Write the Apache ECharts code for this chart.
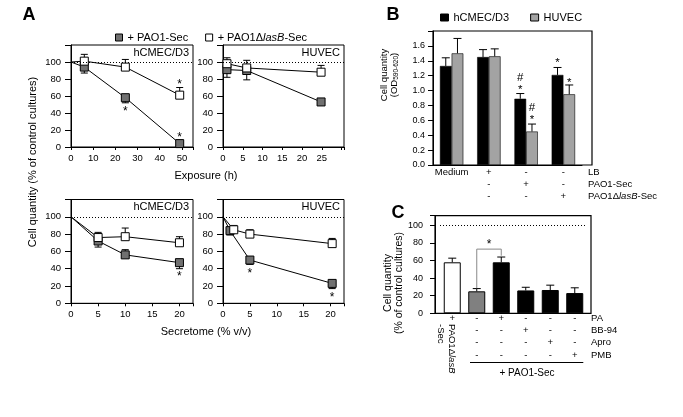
<!DOCTYPE html>
<html><head><meta charset="utf-8">
<script src="https://cdn.jsdelivr.net/npm/echarts@6/dist/echarts.min.js"></script>
<style>html,body{margin:0;padding:0;background:#fff}#c{width:683px;height:417px}</style>
</head><body><div id="c"></div>
<script>
// ---------- Panel A data ----------
const a1PaoX = [0, 6, 24.5, 49];
const a1PaoY = [100, 94, 58, 4];
const a1PaoE = [0, -7, -6, 0];
const a1LasX = [0, 6, 24.5, 49];
const a1LasY = [100, 101, 94, 61];
const a1LasE = [0, 8, 9, 9];
const a1StarX = [49, 24.5, 49];
const a1StarY = [76, 44.7, 13.7];

const a2PaoX = [1, 6, 24.8];
const a2PaoY = [91, 90, 53];
const a2PaoE = [-9, -11, -3];
const a2LasX = [1, 6, 24.8];
const a2LasY = [98, 93, 88];
const a2LasE = [7, 9, 8];

const a3PaoX = [0, 5, 10, 20];
const a3PaoY = [100, 72, 56, 47];
const a3PaoE = [0, -7, 6, -7];
const a3LasX = [0, 5, 10, 20];
const a3LasY = [100, 76, 77, 70];
const a3LasE = [0, 6, 10, 7];
const a3StarX = [20];
const a3StarY = [33.5];

const a4PaoX = [0, 1.3, 5, 20.3];
const a4PaoY = [100, 84, 50, 23];
const a4PaoE = [0, -5, -5, -6];
const a4LasX = [0, 2, 5, 20.3];
const a4LasY = [100, 85, 80, 69];
const a4LasE = [0, 5, 5, 6];
const a4StarX = [5, 20.3];
const a4StarY = [37, 9];

const aYTicks = [0, 20, 40, 60, 80, 100];

// ---------- Panel B data ----------
const bCats = ['Medium', 'LB', 'PAO1-Sec', 'PAO1dlasB-Sec'];
const bRowLB  = ['Medium', '+', '-', '-'];
const bRowPAO = ['', '-', '+', '-'];
const bRowLas = ['', '-', '-', '+'];
const bHcmec = [1.33, 1.45, 0.89, 1.21];
const bHcmecErr = [0.11, 0.10, 0.07, 0.10];
const bHuvec = [1.50, 1.46, 0.45, 0.95];
const bHuvecErr = [0.20, 0.10, 0.10, 0.125];
const bMarkCat = [2, 2, 2, 2, 3, 3];
const bMarkY = [1.04, 1.17, 0.64, 0.77, 1.40, 1.14];
const bMarkText = ['*', '#', '*', '#', '*', '*'];
const bMarkBar = [0, 0, 1, 1, 0, 1]; // 0 = hCMEC/D3 bar, 1 = HUVEC bar

// ---------- Panel C data ----------
const cCats = ['dlasB', 'PAO1', 'PA', 'BB-94', 'Apro', 'PMB'];
const cVals = [58, 25, 58, 26, 26.5, 23];
const cErr = [4.7, 3.1, 6, 3.6, 5.5, 6];
const cRowPA   = ['+', '-', '+', '-', '-', '-'];
const cRowBB   = ['', '-', '-', '+', '-', '-'];
const cRowApro = ['', '-', '-', '-', '+', '-'];
const cRowPMB  = ['', '-', '-', '-', '-', '+'];
const cBracket = [1, 2, 28.5, 73, 65.5, 80.7]; // from cat, to cat, left foot, top, right foot, star

// ---------- styling ----------
const FONT = 'Liberation Sans';
const GRAY_A = '#707070';
const GRAY_B = '#a3a3a3';
const GRAY_C = '#808080';
const PAO = '+ PAO1-Sec';
const LAS = '+ PAO1ΔlasB-Sec';
const DOT = {type: [1, 2], color: '#000', width: 1};

function aGrid(left, top, w, h) {
  return {left, top, width: w, height: h, show: true, borderColor: '#000', borderWidth: 1, backgroundColor: 'transparent'};
}
function aX(k, max, interval) {
  return {gridIndex: k, type: 'value', min: 0, max, interval,
    axisLine: {show: true, onZero: false, lineStyle: {color: '#000', width: 1}},
    axisTick: {show: true, length: 3, lineStyle: {color: '#000'}},
    axisLabel: {fontSize: 9.5, fontFamily: FONT, color: '#000', margin: 6,
      formatter: v => (Math.abs(v / interval - Math.round(v / interval)) < 1e-6 && v <= max - interval / 2 + 1e-6) ? String(v) : ''},
    splitLine: {show: false}};
}
function aY(k) {
  return {gridIndex: k, type: 'value', min: 0, max: 120, interval: 20,
    axisLine: {show: true, lineStyle: {color: '#000', width: 1}},
    axisTick: {show: true, length: 6, lineStyle: {color: '#000'}},
    axisLabel: {fontSize: 9.5, fontFamily: FONT, color: '#000', margin: 10,
      formatter: v => aYTicks.indexOf(v) >= 0 ? String(v) : ''},
    splitLine: {show: false}};
}
function lineSeries(k, name, xs, ys, color, withRef) {
  const s = {type: 'line', name, xAxisIndex: k, yAxisIndex: k,
    data: xs.map((x, i) => x === 0 ? {value: [x, ys[i]], symbol: 'none'} : [x, ys[i]]),
    symbol: 'rect', symbolSize: 8, showAllSymbol: true,
    itemStyle: {color, borderColor: '#000', borderWidth: 1},
    lineStyle: {color: '#000', width: 1}, z: 4, silent: true};
  if (withRef) {
    s.markLine = {silent: true, symbol: 'none', label: {show: false}, lineStyle: DOT, data: [{yAxis: 100}]};
  }
  return s;
}
function errSeries(k, xs, ys, es, cap, dxs) {
  return {type: 'custom', xAxisIndex: k, yAxisIndex: k, z: 3, silent: true,
    data: xs.map((x, i) => [x, ys[i], es[i], dxs ? dxs[i] : 0]).filter(d => d[2] !== 0),
    renderItem: (p, api) => {
      const x = api.value(0), y = api.value(1), e = api.value(2), dx = api.value(3);
      const p0 = api.coord([x, y]), p1 = api.coord([x, y + e]);
      const cx = p0[0] + dx;
      return {type: 'group', children: [
        {type: 'line', shape: {x1: cx, y1: p0[1], x2: cx, y2: p1[1]}, style: {stroke: '#000', lineWidth: 1}},
        {type: 'line', shape: {x1: cx - cap / 2, y1: p1[1], x2: cx + cap / 2, y2: p1[1]}, style: {stroke: '#000', lineWidth: 1}}
      ]};
    }};
}
function textSeries(k, xs, ys, texts, size, dxs) {
  return {type: 'custom', xAxisIndex: k, yAxisIndex: k, z: 6, silent: true,
    data: xs.map((x, i) => [x, ys[i]]),
    renderItem: (p, api) => {
      const c = api.coord([api.value(0), api.value(1)]);
      const t = texts[p.dataIndex];
      const dy = t === '*' ? size * 0.22 : 0;
      return {type: 'text', x: c[0] + (dxs ? dxs[p.dataIndex] : 0), y: c[1] + dy,
        style: {text: t, fill: '#000', fontSize: size, fontFamily: FONT, align: 'center', verticalAlign: 'middle'}};
    }};
}

const grids = [
  aGrid(71, 45, 122, 102),
  aGrid(223, 45, 121, 102),
  aGrid(71, 199.5, 122, 103.8),
  aGrid(223, 199.5, 121, 103.8),
  {left: 433, top: 31, width: 149, height: 134, show: false},
  {left: 440, top: 215.7, width: 147, height: 97.6, show: false}
];

const xAxes = [
  aX(0, 55, 10), aX(1, 30.6, 5), aX(2, 22.5, 5), aX(3, 22.5, 5),
  {gridIndex: 4, type: 'category', data: bCats,
    axisLine: {show: true, lineStyle: {color: '#000'}}, axisTick: {show: false},
    axisLabel: {interval: 0, fontSize: 9.5, fontFamily: FONT, color: '#000', lineHeight: 12, margin: 1.3,
      formatter: (v, i) => [bRowLB[i], bRowPAO[i], bRowLas[i]].join('\n')}},
  {gridIndex: 5, type: 'category', data: cCats,
    axisLine: {show: false}, axisTick: {show: false},
    axisLabel: {interval: 0, fontSize: 9.5, fontFamily: FONT, color: '#000', lineHeight: 12.4, margin: -1.5,
      formatter: (v, i) => [cRowPA[i], cRowBB[i], cRowApro[i], cRowPMB[i]].join('\n')}}
];
const yAxes = [
  aY(0), aY(1), aY(2), aY(3),
  {gridIndex: 4, type: 'value', min: 0, max: 1.8, interval: 0.2,
    axisLine: {show: true, lineStyle: {color: '#000'}},
    axisTick: {show: true, length: 5, lineStyle: {color: '#000'}},
    axisLabel: {fontSize: 9, fontFamily: FONT, color: '#000', margin: 8,
      formatter: v => v > 1.7 ? '' : v.toFixed(1)},
    splitLine: {show: false}},
  {gridIndex: 5, type: 'value', min: 0, max: 111, interval: 20, offset: 5,
    axisLine: {show: true, lineStyle: {color: '#000'}},
    axisTick: {show: true, length: 5, lineStyle: {color: '#000'}},
    axisLabel: {fontSize: 9, fontFamily: FONT, color: '#000', margin: 12,
      formatter: v => v > 100 ? '' : String(v)},
    splitLine: {show: false}}
];

const halfBar = 11.7 / 2;
const series = [
  // A1
  errSeries(0, a1PaoX, a1PaoY, a1PaoE, 7), errSeries(0, a1LasX, a1LasY, a1LasE, 7),
  lineSeries(0, PAO, a1PaoX, a1PaoY, GRAY_A, true), lineSeries(0, LAS, a1LasX, a1LasY, '#fff'),
  textSeries(0, a1StarX, a1StarY, a1StarX.map(() => '*'), 12),
  // A2
  errSeries(1, a2PaoX, a2PaoY, a2PaoE, 7), errSeries(1, a2LasX, a2LasY, a2LasE, 7),
  lineSeries(1, PAO, a2PaoX, a2PaoY, GRAY_A, true), lineSeries(1, LAS, a2LasX, a2LasY, '#fff'),
  // A3
  errSeries(2, a3PaoX, a3PaoY, a3PaoE, 7), errSeries(2, a3LasX, a3LasY, a3LasE, 7),
  lineSeries(2, PAO, a3PaoX, a3PaoY, GRAY_A, true), lineSeries(2, LAS, a3LasX, a3LasY, '#fff'),
  textSeries(2, a3StarX, a3StarY, a3StarX.map(() => '*'), 12),
  // A4
  errSeries(3, a4PaoX, a4PaoY, a4PaoE, 7), errSeries(3, a4LasX, a4LasY, a4LasE, 7),
  lineSeries(3, PAO, a4PaoX, a4PaoY, GRAY_A, true), lineSeries(3, LAS, a4LasX, a4LasY, '#fff'),
  textSeries(3, a4StarX, a4StarY, a4StarX.map(() => '*'), 12),
  // B
  {type: 'bar', name: 'hCMEC/D3', xAxisIndex: 4, yAxisIndex: 4, data: bHcmec, barWidth: 11.7, barGap: '0%',
    itemStyle: {color: '#000', borderColor: '#000', borderWidth: 0.5}, silent: true, z: 2},
  {type: 'bar', name: 'HUVEC', xAxisIndex: 4, yAxisIndex: 4, data: bHuvec, barWidth: 11.7, barGap: '0%',
    itemStyle: {color: GRAY_B, borderColor: '#000', borderWidth: 0.6}, silent: true, z: 2},
  errSeries(4, bCats.map((c, i) => i), bHcmec, bHcmecErr, 8, bCats.map(() => -halfBar)),
  errSeries(4, bCats.map((c, i) => i), bHuvec, bHuvecErr, 8, bCats.map(() => halfBar)),
  textSeries(4, bMarkCat, bMarkY, bMarkText, 11.5, bMarkBar.map(b => b === 0 ? -halfBar : halfBar)),
  // C
  {type: 'bar', xAxisIndex: 5, yAxisIndex: 5, barWidth: 17, silent: true, z: 2,
    data: cVals.map((v, i) => ({value: v, itemStyle: {color: i === 0 ? '#fff' : (i === 1 ? GRAY_C : '#000'), borderColor: '#000', borderWidth: 1}})),
    markLine: {silent: true, symbol: 'none', label: {show: false}, lineStyle: DOT, data: [{yAxis: 100}]}},
  errSeries(5, cCats.map((c, i) => i), cVals, cErr, 8),
  {type: 'custom', xAxisIndex: 5, yAxisIndex: 5, z: 5, silent: true, data: [cBracket],
    renderItem: (p, api) => {
      const a = api.value(0), b = api.value(1);
      const pA = api.coord([a, api.value(2)]), pT = api.coord([a, api.value(3)]);
      const pB = api.coord([b, api.value(4)]), pS = api.coord([a, api.value(5)]);
      const bx = api.coord([b, 0])[0];
      return {type: 'group', children: [
        {type: 'polyline', shape: {points: [[pA[0], pA[1]], [pA[0], pT[1]], [bx, pT[1]], [bx, pB[1]]]}, style: {stroke: '#888', lineWidth: 1, fill: null}},
        {type: 'text', x: (pA[0] + bx) / 2, y: pS[1] + 2.6, style: {text: '*', fill: '#000', fontSize: 12, fontFamily: FONT, align: 'center', verticalAlign: 'middle'}}
      ]};
    }}
];

function T(x, y, text, o) {
  o = o || {};
  return {type: 'text', x, y, rotation: o.rot || 0, silent: true,
    style: {text, fill: '#000', fontSize: o.size || 11, fontFamily: FONT, fontWeight: o.weight || 'normal',
      align: o.align || 'center', verticalAlign: o.valign || 'middle', lineHeight: o.lh, rich: o.rich}};
}
const richI = s => ({n: {fontSize: s, fontFamily: FONT, fill: '#000'}, i: {fontSize: s, fontFamily: FONT, fontStyle: 'italic', fill: '#000'}});

const graphic = [
  T(29, 15, 'A', {size: 18, weight: 'bold'}),
  T(393, 15, 'B', {size: 18, weight: 'bold'}),
  T(398, 213, 'C', {size: 18, weight: 'bold'}),
  T(189, 53, 'hCMEC/D3', {align: 'right'}),
  T(340, 53, 'HUVEC', {align: 'right'}),
  T(189, 207, 'hCMEC/D3', {align: 'right'}),
  T(340, 207, 'HUVEC', {align: 'right'}),
  T(206, 176, 'Exposure (h)'),
  T(206, 332, 'Secretome (% v/v)'),
  T(33, 162, 'Cell quantity (% of control cultures)', {rot: Math.PI / 2}),
  T(389, 75, '{n|Cell quantity}\n{n|(OD}{s|590-620}{n|)}', {rot: Math.PI / 2, size: 9.5, lh: 10,
    rich: {n: {fontSize: 9.5, fontFamily: FONT, fill: '#000'}, s: {fontSize: 6.5, fontFamily: FONT, fill: '#000', padding: [4, 0, 0, 0]}}}),
  T(394, 283, 'Cell quantity\n(% of control cultures)', {rot: Math.PI / 2, size: 10.5, lh: 11}),
  T(588, 172.3, 'LB', {align: 'left', size: 9.5}),
  T(588, 184.3, 'PAO1-Sec', {align: 'left', size: 9.5}),
  T(588, 196.3, '{n|PAO1Δ}{i|lasB}{n|-Sec}', {align: 'left', size: 9.5, rich: richI(9.5)}),
  T(591, 318, 'PA', {align: 'left', size: 9.5}),
  T(591, 330.4, 'BB-94', {align: 'left', size: 9.5}),
  T(591, 342.8, 'Apro', {align: 'left', size: 9.5}),
  T(591, 355.2, 'PMB', {align: 'left', size: 9.5}),
  T(457, 324, '{n|PAO1Δ}{i|lasB}\n{n|-Sec}', {rot: -Math.PI / 2, align: 'left', valign: 'top', size: 9.5, lh: 11, rich: richI(9.5)}),
  {type: 'line', silent: true, shape: {x1: 470, y1: 362.5, x2: 583.3, y2: 362.5}, style: {stroke: '#000', lineWidth: 1}},
  T(527, 373, '+ PAO1-Sec', {size: 10}),
  {type: 'rect', silent: true, shape: {x: 433, y: 31, width: 159, height: 134}, style: {fill: null, stroke: '#000', lineWidth: 1.2}},
  {type: 'rect', silent: true, shape: {x: 435, y: 215.7, width: 156, height: 97.6}, style: {fill: null, stroke: '#000', lineWidth: 1.2}}
];

const chart = echarts.init(document.getElementById('c'), null, {renderer: 'canvas'});
chart.setOption({
  animation: false,
  backgroundColor: '#fff',
  textStyle: {fontFamily: FONT},
  grid: grids, xAxis: xAxes, yAxis: yAxes, series,
  legend: [
    {data: [{name: PAO, icon: 'rect', itemStyle: {color: GRAY_A, borderColor: '#000', borderWidth: 1}},
            {name: LAS, icon: 'rect', itemStyle: {color: '#fff', borderColor: '#000', borderWidth: 1}}],
     left: 110, top: 27, itemWidth: 7, itemHeight: 7, itemGap: 17, selectedMode: false,
     textStyle: {fontSize: 11, fontFamily: FONT, color: '#000', rich: {i: {fontSize: 11, fontFamily: FONT, fontStyle: 'italic', color: '#000'}}},
     formatter: n => n === LAS ? '+ PAO1Δ{i|lasB}-Sec' : n},
    {data: [{name: 'hCMEC/D3', icon: 'rect', itemStyle: {color: '#000', borderColor: '#000', borderWidth: 1}},
            {name: 'HUVEC', icon: 'rect', itemStyle: {color: GRAY_B, borderColor: '#000', borderWidth: 1}}],
     left: 435, top: 7, itemWidth: 8, itemHeight: 7, itemGap: 21, selectedMode: false,
     textStyle: {fontSize: 11, fontFamily: FONT, color: '#000'}}
  ],
  graphic
});
</script>
</body></html>
